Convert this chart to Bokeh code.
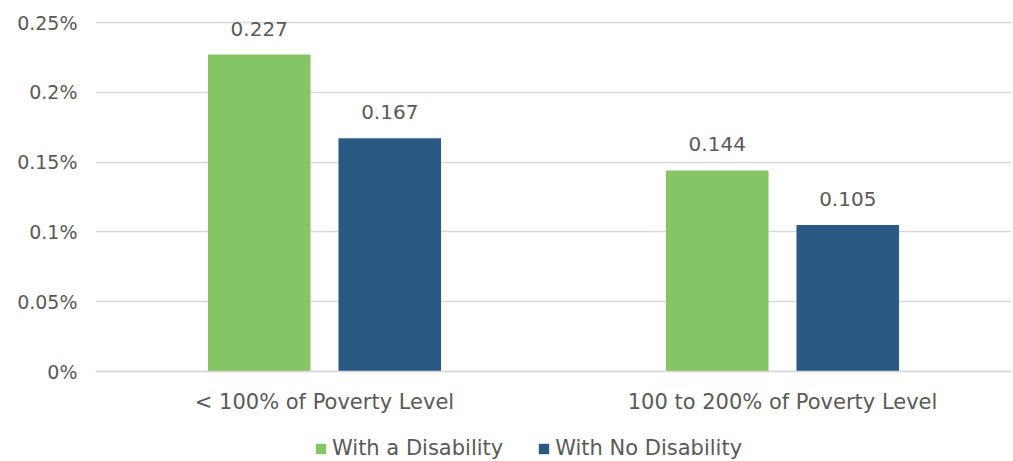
from bokeh.plotting import figure
from bokeh.models import (ColumnDataSource, FactorRange, Range1d, FixedTicker, Legend, LegendItem,
                          LabelSet, CategoricalAxis)
from bokeh.transform import dodge
from bokeh.core.properties import value
from bokeh.embed import file_html
from bokeh.resources import INLINE

categories = ["< 100% of Poverty Level", "100 to 200% of Poverty Level"]
series_names = ["With a Disability", "With No Disability"]
with_disability = [0.227, 0.144]
no_disability = [0.167, 0.105]
y_ticks = [0, 0.05, 0.1, 0.15, 0.2, 0.25]
y_tick_labels = ["0%", "0.05%", "0.1%", "0.15%", "0.2%", "0.25%"]

FONT = "DejaVu Sans"
TEXT = "#595959"
GREEN = "#85C565"
BLUE = "#285A84"
GRID = "#D9D9D9"

# frame spans the whole height below the top border; value axis 0..0.25 occupies 349 px
PX = 0.25 / 349.0
y_lo = -90 * PX
y_hi = 0.25 + 7 * PX

src = ColumnDataSource(dict(
    cat=categories,
    a=with_disability,
    b=no_disability,
    a_lbl=[f"{v:g}" for v in with_disability],
    b_lbl=[f"{v:g}" for v in no_disability],
))

p = figure(width=1013, height=461, x_range=FactorRange(*categories, range_padding=0),
           y_range=Range1d(y_lo, y_hi), output_backend="svg", toolbar_location=None,
           x_axis_location=None,
           min_border_left=95, min_border_right=2, min_border_top=15, min_border_bottom=0)
p.outline_line_color = None
p.background_fill_color = "white"
p.border_fill_color = "white"

r1 = p.vbar(x=dodge("cat", -0.1425, range=p.x_range), top="a", width=0.224, source=src,
            fill_color=GREEN, line_color=None)
r2 = p.vbar(x=dodge("cat", 0.1425, range=p.x_range), top="b", width=0.224, source=src,
            fill_color=BLUE, line_color=None)

for col, lbl, off in [("a", "a_lbl", -0.1425), ("b", "b_lbl", 0.1425)]:
    ls = LabelSet(x=dodge("cat", off, range=p.x_range), y=col, text=lbl, source=src,
                  text_align="center", text_baseline="alphabetic", y_offset=19,
                  text_font=value(FONT), text_font_size=value("20px"), text_color=TEXT)
    p.add_layout(ls)

p.xgrid.grid_line_color = None
p.ygrid.grid_line_color = GRID
p.ygrid.grid_line_width = 1.3
p.yaxis.ticker = FixedTicker(ticks=y_ticks)
p.yaxis.major_label_overrides = {t: l for t, l in zip(y_ticks, y_tick_labels)}
p.yaxis.axis_line_color = None
p.yaxis.major_tick_line_color = None
p.yaxis.minor_tick_line_color = None
p.yaxis.major_label_standoff = 12
p.yaxis.major_label_text_font = FONT
p.yaxis.major_label_text_font_size = "19px"
p.yaxis.major_label_text_color = TEXT

xaxis = CategoricalAxis(fixed_location=0)
xaxis.axis_line_color = GRID
xaxis.axis_line_width = 1.5
xaxis.major_tick_line_color = None
xaxis.minor_tick_line_color = None
xaxis.major_label_standoff = 12
xaxis.major_label_text_font = FONT
xaxis.major_label_text_font_size = "21px"
xaxis.major_label_text_color = TEXT
p.add_layout(xaxis, "below")

legend = Legend(items=[LegendItem(label=series_names[0], renderers=[r1]),
                       LegendItem(label=series_names[1], renderers=[r2])],
                orientation="horizontal", location=(219, 1),
                glyph_width=13, glyph_height=13, label_standoff=5, spacing=34,
                label_text_font=FONT, label_text_font_size="21px", label_text_color=TEXT,
                border_line_color=None, background_fill_alpha=0, padding=0, margin=0)
p.add_layout(legend, "center")

open("out.html", "w").write(file_html(p, INLINE))
